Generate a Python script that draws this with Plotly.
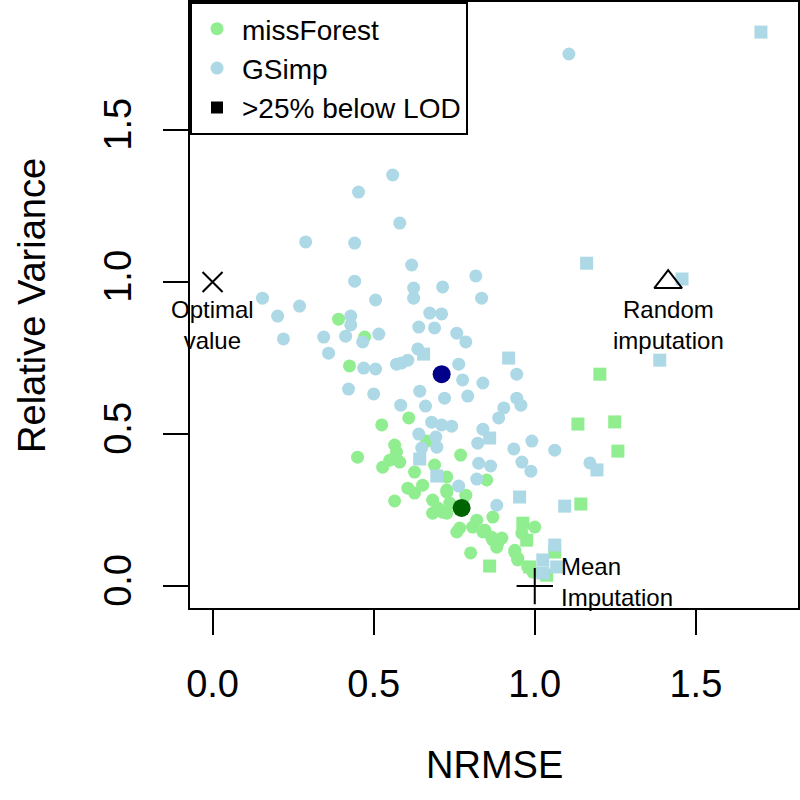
import plotly.graph_objects as go

# missForest, normal metabolites (circles)
mf_x = [0.391, 0.472, 0.425, 0.450, 0.525, 0.609, 0.665, 0.565, 0.571, 0.528,
        0.550, 0.581, 0.770, 0.627, 0.689, 0.727, 0.851, 0.606, 0.652, 0.627,
        0.565, 0.683, 0.727, 0.699, 0.683, 0.727, 0.786, 0.758, 0.807, 0.845,
        0.866, 0.885, 0.870, 0.801, 0.938, 0.947, 1.000, 0.960, 0.727, 0.736,
        0.714, 0.767, 0.820, 0.839, 0.870, 0.898, 0.882, 0.938, 0.947, 0.978,
        0.994]
mf_y = [0.878, 0.819, 0.724, 0.424, 0.530, 0.553, 0.477, 0.464, 0.441, 0.391,
        0.414, 0.408, 0.431, 0.375, 0.398, 0.359, 0.349, 0.322, 0.332, 0.306,
        0.280, 0.283, 0.309, 0.257, 0.240, 0.240, 0.299, 0.178, 0.194, 0.184,
        0.161, 0.141, 0.227, 0.109, 0.112, 0.086, 0.194, 0.174, 0.316, 0.273,
        0.243, 0.191, 0.217, 0.178, 0.151, 0.158, 0.128, 0.118, 0.092, 0.063,
        0.046]

# missForest, >25% below LOD (squares)
mf_lod_x = [0.860, 0.963, 0.975, 0.984, 1.037, 1.202, 1.134, 1.248, 1.258, 1.143, 1.062]
mf_lod_y = [0.066, 0.207, 0.151, 0.063, 0.036, 0.697, 0.533, 0.540, 0.444, 0.270, 0.112]

# GSimp, normal metabolites (circles)
gs_x = [1.106, 0.559, 0.453, 0.581, 0.289, 0.441, 0.618, 0.441, 0.624, 0.714,
        0.624, 0.155, 0.270, 0.202, 0.429, 0.674, 0.711, 0.429, 0.506, 0.640,
        0.689, 0.758, 0.786, 0.220, 0.345, 0.413, 0.516, 0.466, 0.360, 0.637,
        0.571, 0.606, 0.587, 0.469, 0.506, 0.764, 0.776, 0.422, 0.500, 0.643,
        0.720, 0.817, 0.835, 0.839, 0.944, 0.792, 0.944, 0.957, 0.904, 0.888,
        1.062, 1.171, 0.584, 0.661, 0.680, 0.711, 0.742, 0.640, 0.693, 0.696,
        0.649, 0.839, 0.823, 0.935, 0.991, 0.826, 0.863, 0.960, 0.988, 0.820,
        0.764, 0.882]
gs_y = [1.750, 1.352, 1.296, 1.194, 1.132, 1.128, 1.056, 1.003, 0.980, 0.984,
        0.947, 0.947, 0.921, 0.888, 0.888, 0.898, 0.895, 0.859, 0.941, 0.852,
        0.849, 0.832, 0.803, 0.813, 0.819, 0.822, 0.829, 0.803, 0.766, 0.780,
        0.730, 0.743, 0.734, 0.717, 0.714, 0.730, 0.678, 0.648, 0.632, 0.641,
        0.618, 1.020, 0.947, 0.668, 0.697, 0.625, 0.618, 0.595, 0.586, 0.553,
        0.447, 0.405, 0.595, 0.592, 0.539, 0.530, 0.526, 0.500, 0.490, 0.457,
        0.454, 0.516, 0.470, 0.451, 0.477, 0.404, 0.395, 0.408, 0.378, 0.352,
        0.329, 0.266]

# GSimp, >25% below LOD (squares)
gs_lod_x = [0.655, 0.919, 1.161, 1.457, 1.388, 1.702, 1.193, 1.093, 1.062, 1.068,
            0.643, 0.860, 0.696, 0.953, 1.025, 1.025]
gs_lod_y = [0.763, 0.750, 1.062, 1.010, 0.743, 1.822, 0.382, 0.263, 0.135, 0.063,
            0.418, 0.487, 0.362, 0.293, 0.086, 0.043]

# mean of each method
mean_x = [0.773, 0.711]
mean_y = [0.257, 0.697]

# reference points
ref_labels = ["Optimal<br>value", "Random<br>imputation", "Mean<br>Imputation"]
ref_x = [0.0, 1.414, 1.0]
ref_y = [1.0, 1.0, 0.0]
ref_symbols = ["x-thin-open", "triangle-up-open", "cross-thin-open"]

FONT = "Liberation Sans, Arial, sans-serif"
GREEN = "#90EE90"
BLUE = "#ADD8E6"

fig = go.Figure()

fig.add_trace(go.Scatter(x=mf_x, y=mf_y, mode="markers", name="missForest", legendrank=1,
                         marker=dict(color=GREEN, size=13, symbol="circle")))
fig.add_trace(go.Scatter(x=gs_x, y=gs_y, mode="markers", name="GSimp", legendrank=2,
                         marker=dict(color=BLUE, size=13, symbol="circle")))
fig.add_trace(go.Scatter(x=mf_lod_x, y=mf_lod_y, mode="markers", showlegend=False,
                         marker=dict(color=GREEN, size=13, symbol="square")))
fig.add_trace(go.Scatter(x=gs_lod_x, y=gs_lod_y, mode="markers", showlegend=False,
                         marker=dict(color=BLUE, size=13, symbol="square")))
# legend only entry for squares
fig.add_trace(go.Scatter(x=[None], y=[None], mode="markers", name=">25% below LOD", legendrank=3,
                         marker=dict(color="black", size=12, symbol="square")))

fig.add_trace(go.Scatter(x=mean_x, y=mean_y, mode="markers", showlegend=False,
                         marker=dict(color=["darkgreen", "darkblue"], size=18, symbol="circle")))

# reference markers: x, triangle, plus
for i, sz in enumerate([20, 24, 26]):
    fig.add_trace(go.Scatter(x=[ref_x[i]], y=[ref_y[i]], mode="markers", showlegend=False,
                             opacity=1,
                             marker=dict(symbol=ref_symbols[i], size=sz, color="#000000", opacity=1,
                                         line=dict(color="#000000", width=2))))

# labels next to reference points
txt_font = dict(size=24, family=FONT, color="black")
fig.add_annotation(x=ref_x[0], y=ref_y[0], text=ref_labels[0], showarrow=False,
                   xanchor="center", yanchor="top", yshift=-12, font=txt_font)
fig.add_annotation(x=ref_x[1], y=ref_y[1], text=ref_labels[1], showarrow=False,
                   xanchor="center", yanchor="top", yshift=-12, font=txt_font)
fig.add_annotation(x=ref_x[2], y=ref_y[2], text=ref_labels[2], showarrow=False, align="left",
                   xanchor="left", yanchor="middle", xshift=24, yshift=4, font=txt_font)

# axis titles
title_font = dict(size=38, family=FONT, color="black")
fig.add_annotation(x=0.5, y=-0.259, xref="paper", yref="paper", text="NRMSE", showarrow=False,
                   xanchor="center", yanchor="middle", font=title_font)
fig.add_annotation(x=-0.26, y=0.5, xref="paper", yref="paper", text="Relative Variance",
                   showarrow=False, textangle=-90, xanchor="center", yanchor="middle", font=title_font)

fig.update_xaxes(range=[-0.070, 1.817], tickvals=[0, 0.5, 1.0, 1.5], tickformat=".1f",
                 ticks="outside", ticklen=25, tickwidth=2, tickcolor="black",
                 ticklabelstandoff=16, automargin=False,
                 showgrid=False, zeroline=False, showline=True, linewidth=2, linecolor="black",
                 mirror=True, tickfont=dict(size=38, family=FONT, color="black"))
fig.update_yaxes(range=[-0.072, 1.921], tickvals=[0, 0.5, 1.0, 1.5], tickformat=".1f",
                 ticks="outside", ticklen=25, tickwidth=2, tickcolor="black", tickangle=-90,
                 ticklabelstandoff=17, automargin=False,
                 showgrid=False, zeroline=False, showline=True, linewidth=2, linecolor="black",
                 mirror=True, tickfont=dict(size=38, family=FONT, color="black"))

fig.update_layout(
    width=800, height=800,
    margin=dict(l=190, r=2, t=2, b=192),
    plot_bgcolor="white", paper_bgcolor="white",
    legend=dict(x=0, y=1, xanchor="left", yanchor="top", bgcolor="white",
                bordercolor="black", borderwidth=2, itemwidth=40,
                font=dict(size=28, family=FONT, color="black")),
)

# page body has a default 8px margin, drop it so the figure sits at the corner
fig.write_html("out.html", config={"displayModeBar": False},
               post_script="document.body.style.margin='0';")
